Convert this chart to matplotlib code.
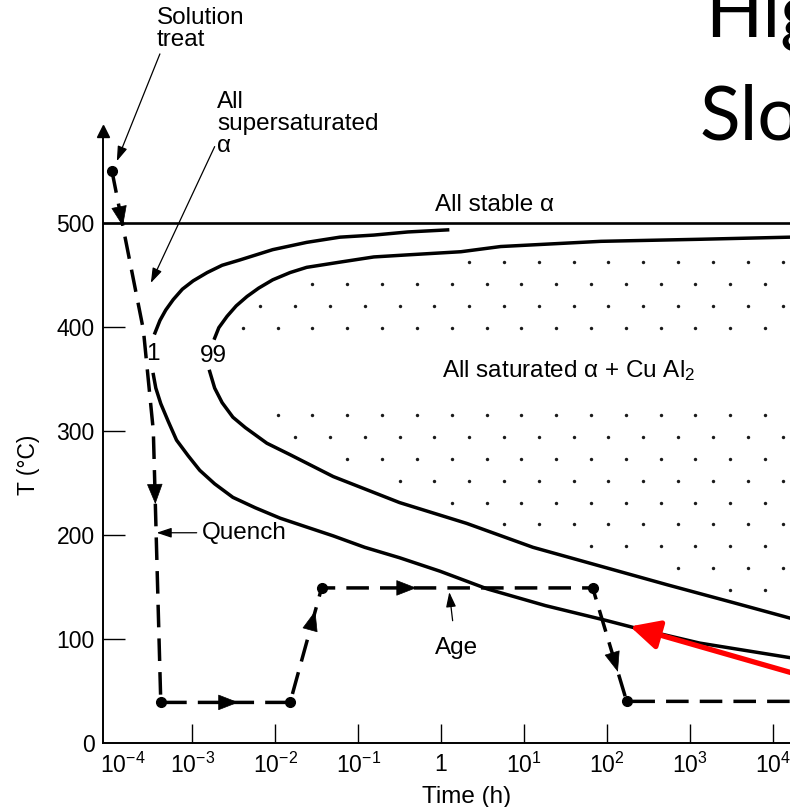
import numpy as np
import matplotlib.pyplot as plt
from matplotlib.transforms import ScaledTranslation

plt.rcParams['font.family'] = ['Liberation Sans', 'DejaVu Sans']
plt.rcParams['mathtext.fontset'] = 'custom'
plt.rcParams['mathtext.rm'] = 'Liberation Sans'
plt.rcParams['mathtext.it'] = 'Liberation Sans:italic'
plt.rcParams['mathtext.bf'] = 'Liberation Sans:bold'

# curves: log10(time in h) and temperature (C)
c1_up_logt = [-3.45, -3.39, -3.32, -3.23, -3.12, -2.99, -2.82, -2.64, -2.43, -2.03,
              -1.62, -1.22, -0.81, -0.40, 0.08]
c1_up_T = [394, 406, 416, 426, 436, 444, 452, 459, 464, 474, 481, 486, 488, 491, 493]
c1_lo_logt = [-3.47, -3.44, -3.38, -3.29, -3.19, -3.05, -2.91, -2.73, -2.51, -2.24,
              -1.94, -1.64, -1.30, -0.92, -0.50, -0.01, 0.56, 1.26, 1.98, 2.32, 3.12, 4.21]
c1_lo_T = [354, 341, 326, 309, 291, 276, 262, 249, 236, 226,
           216, 208, 199, 188, 178, 165, 148, 132, 118, 111, 96, 82]

c99_up_logt = [-2.73, -2.68, -2.58, -2.47, -2.34, -2.20, -2.03, -1.82, -1.62, -1.22,
               -0.81, -0.40, 0.24, 0.72, 1.93, 3.14, 4.21]
c99_up_T = [389, 399, 410, 420, 429, 437, 445, 452, 457, 462, 467, 469, 472, 477, 482, 484, 486]
c99_lo_logt = [-2.79, -2.73, -2.64, -2.51, -2.36, -2.10, -1.82, -1.30, -0.50, 0.31,
               1.11, 1.92, 2.73, 3.52, 4.21]
c99_lo_T = [357, 341, 327, 313, 303, 288, 277, 256, 231, 211, 188, 170, 152, 135, 120]

T_stable = 500

# heat treatment path (solution treat -> quench -> age -> cool)
path_logt = [-3.97, -3.59, -3.47, -3.38, -1.82, -1.44, 1.83, 2.24, 4.4]
path_T = [550, 397, 300, 39, 39, 149, 149, 40, 40]
stop_logt = [-3.97, -3.38, -1.82, -1.44, 1.83, 2.24]
stop_T = [550, 39, 39, 149, 149, 40]

xtick_exp = [-4, -3, -2, -1, 0, 1, 2, 3, 4]
xtick_lab = ['$10^{-4}$', '$10^{-3}$', '$10^{-2}$', '$10^{-1}$', '1',
             '$10^{1}$', '$10^{2}$', '$10^{3}$', '$10^{4}$']
yticks = [0, 100, 200, 300, 400, 500]

fig = plt.figure(figsize=(7.9, 8.07), dpi=100)
ax = fig.add_axes([103/790, 64/807, 687/790, 612/807])
ax.set_xscale('log')
ax.set_xlim(10**-4.077, 10**4.21)
ax.set_ylim(0, 588)

lw = 2.5
tp = lambda l: 10**np.asarray(l, dtype=float)

ax.axhline(T_stable, color='k', lw=1.9)
ax.plot(tp(c1_up_logt), c1_up_T, 'k', lw=lw, solid_joinstyle='round')
ax.plot(tp(c1_lo_logt), c1_lo_T, 'k', lw=lw, solid_joinstyle='round')
ax.plot(tp(c99_up_logt), c99_up_T, 'k', lw=lw, solid_joinstyle='round')
ax.plot(tp(c99_lo_logt), c99_lo_T, 'k', lw=lw, solid_joinstyle='round')

# stippling inside the 99 % curve (texture only)
rows = np.arange(462, 100, -21)
for i, T in enumerate(rows):
    if 330 < T < 395:
        continue
    lt = np.arange(-2.6 + 0.21*(i % 2), 4.3, 0.42)
    top = np.interp(lt, c99_up_logt, c99_up_T)
    bot = np.interp(lt, c99_lo_logt, c99_lo_T)
    m = (T < top - 10) & (T > bot + 10) & (lt > -2.55)
    ax.scatter(tp(lt[m]), np.full(m.sum(), T), s=6, color='#1a1a1a', lw=0)

# dashed treatment path
ax.plot(tp(path_logt), path_T, color='k', lw=lw, ls=(0, (6.5, 3.2)))
ax.plot(tp(stop_logt), stop_T, 'o', color='k', ms=7)

def head(i, frac):
    x0, y0 = path_logt[i], path_T[i]
    x1, y1 = path_logt[i+1], path_T[i+1]
    tip = (x0 + frac*(x1-x0), y0 + frac*(y1-y0))
    tail = (x0 + (frac-0.02)*(x1-x0), y0 + (frac-0.02)*(y1-y0))
    ax.annotate('', xy=(10**tip[0], tip[1]), xytext=(10**tail[0], tail[1]),
                arrowprops=dict(arrowstyle='-|>,head_length=0.9,head_width=0.35',
                                color='k', lw=0.5, shrinkA=0, shrinkB=0,
                                mutation_scale=15))

head(0, 0.35)
head(2, 0.27)
head(3, 0.6)
head(4, 0.8)
head(5, 0.35)
head(6, 0.74)

fs = 17.5
thin = dict(arrowstyle='-|>,head_length=0.6,head_width=0.2', color='k', lw=0.9,
            shrinkA=0, shrinkB=0, mutation_scale=15)
ax.annotate('Solution\ntreat', xy=(10**-3.91, 559), xytext=(10**-3.43, 707),
            ha='left', va='top', fontsize=fs, linespacing=1.0, annotation_clip=False,
            arrowprops=dict(thin, relpos=(0.05, 0.0)))
ax.annotate('', xy=(10**-3.5, 442), xytext=(10**-2.73, 573), arrowprops=thin)
ax.text(10**-2.70, 626, 'All\nsupersaturated\nα', ha='left', va='top',
        fontsize=fs, linespacing=1.0)
ax.text(10**0.64, 517, 'All stable α', ha='center', va='center', fontsize=fs)
ax.text(10**-3.47, 374, '1', ha='center', va='center', fontsize=fs)
ax.text(10**-2.75, 372, '99', ha='center', va='center', fontsize=fs)
ax.text(10**0.01, 358, 'All saturated α + Cu Al$_2$', ha='left', va='center', fontsize=fs)
ax.annotate('Quench', xy=(10**-3.43, 202), xytext=(10**-2.88, 202),
            ha='left', va='center', fontsize=fs, arrowprops=dict(thin, shrinkA=2))
ax.annotate('Age', xy=(10**0.10, 145), xytext=(10**0.19, 91),
            ha='center', va='center', fontsize=fs,
            arrowprops=dict(thin, shrinkA=10, relpos=(0.45, 1.0)))

# red arrow pointing at the 1 % curve
ax.annotate('', xy=(10**2.28, 112), xytext=(10**4.6, 59), annotation_clip=False,
            arrowprops=dict(arrowstyle='-|>,head_length=0.8,head_width=0.4',
                            color='red', lw=3.8, shrinkA=0, shrinkB=0, mutation_scale=22))

# axes styling
for s in ['top', 'right']:
    ax.spines[s].set_visible(False)
for s in ['left', 'bottom']:
    ax.spines[s].set_linewidth(1.4)
ax.plot([0], [1], marker='^', color='k', ms=9, transform=ax.transAxes, clip_on=False)

ax.set_xticks(tp(xtick_exp))
ax.set_xticklabels(xtick_lab)
ax.xaxis.set_minor_locator(plt.NullLocator())
ax.set_yticks(yticks)
ax.tick_params(axis='x', direction='in', length=14, width=1.0, pad=7, labelsize=16.5)
ax.tick_params(axis='y', direction='in', length=16, width=1.0, pad=6, labelsize=16.5)
ax.xaxis.get_major_ticks()[0].tick1line.set_visible(False)
ax.yaxis.get_major_ticks()[0].tick1line.set_visible(False)
# the 10^-4 label sits a little right of the origin, clear of the "0"
lab0 = ax.xaxis.get_major_ticks()[0].label1
lab0.set_transform(lab0.get_transform() + ScaledTranslation(13/100, 0, fig.dpi_scale_trans))

fig.text(28/790, 1 - 465/807, 'T (°C)', rotation=90, ha='center', va='center', fontsize=16.5)
fig.text(467/790, 1 - 797/807, 'Time (h)', ha='center', va='center', fontsize=fs)

fig.text(705/790, 1 - 37/807, 'Hig', ha='left', va='baseline', fontsize=54,
         family=['Lato', 'DejaVu Sans'])
fig.text(700/790, 1 - 140/807, 'Slo', ha='left', va='baseline', fontsize=54,
         family=['Lato', 'DejaVu Sans'])

fig.savefig('out.png', dpi=100)
